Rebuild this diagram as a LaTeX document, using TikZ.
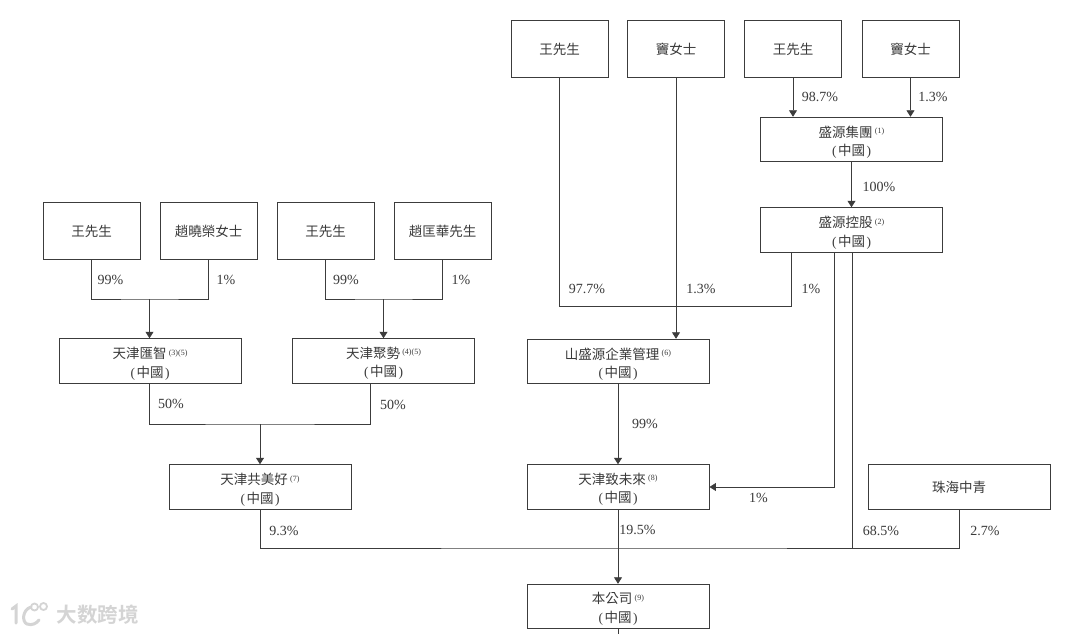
\documentclass[tikz,border=0pt]{standalone}
\usepackage{fontspec}
\setmainfont{Liberation Serif}
\newfontfamily\cjk{Noto Sans CJK TC}
\newfontfamily\cjksc{Noto Sans CJK SC}[BoldFont={Noto Sans CJK SC Bold}]
\usetikzlibrary{arrows.meta,calc}
\definecolor{ink}{HTML}{3C3C3C}
\definecolor{txt}{HTML}{3A3A3A}
\definecolor{wm}{HTML}{D4D4D4}
\newcommand{\zh}[1]{{\cjk #1}}
\newcommand{\note}[1]{\,\raisebox{3.5pt}{\fontsize{8}{8}\selectfont #1}}
\newcommand{\cn}{(\hspace{1.5pt}\zh{中國}\hspace{1.5pt})}
\newcommand{\dn}[1]{\raisebox{-2.5pt}[\height][\depth]{#1}}
\newcommand{\twolines}[2]{\dn{\zh{#1}\note{#2}}\\\dn{\cn}}
\tikzset{
  ownerbox/.style={draw=ink,line width=0.95pt,minimum width=97pt,minimum height=56.5pt,inner sep=0pt,text=txt,font=\fontsize{13.5}{18.5}\selectfont},
  entitybox/.style={draw=ink,line width=0.95pt,minimum width=182pt,minimum height=44.5pt,inner sep=0pt,align=center,text=txt,font=\fontsize{13.5}{18.5}\selectfont},
  pct/.style={inner sep=0pt,text=txt,font=\fontsize{14}{14}\selectfont},
  link/.style={draw=ink,line width=0.9pt},
  arrowlink/.style={link,-{Triangle[length=6.5pt,width=8pt]}},
  wmtext/.style={inner sep=0pt,text=wm,font=\fontsize{20.5}{21}\cjksc\bfseries},
  wmstroke/.style={draw=wm,line width=3pt,line cap=round}
}
\begin{document}
\begin{tikzpicture}[x=1pt,y=-1pt]
\path[use as bounding box,fill=white] (0,0) rectangle (1080,634);
% top owners
\node[ownerbox] (a1) at (559.5,49) {\zh{王先生}};
\node[ownerbox] (a2) at (676,49) {\zh{竇女士}};
\node[ownerbox] (a3) at (793,49) {\zh{王先生}};
\node[ownerbox] (a4) at (910.5,49) {\zh{竇女士}};
\node[entitybox] (group) at (851.5,139.5) {\twolines{盛源集團}{(1)}};
\node[entitybox] (hold) at (851.5,230) {\twolines{盛源控股}{(2)}};
% left owners
\node[ownerbox] (b1) at (91.5,231) {\zh{王先生}};
\node[ownerbox] (b2) at (208.5,231) {\zh{趙曉榮女士}};
\node[ownerbox] (b3) at (325.5,231) {\zh{王先生}};
\node[ownerbox] (b4) at (442.5,231) {\zh{趙匡華先生}};
\node[entitybox] (hz) at (150,361) {\twolines{天津匯智}{(3)(5)}};
\node[entitybox] (js) at (383.5,361) {\twolines{天津聚勢}{(4)(5)}};
\node[entitybox] (gm) at (260,487) {\twolines{天津共美好}{(7)}};
\node[entitybox] (ss) at (618,361.5) {\twolines{山盛源企業管理}{(6)}};
\node[entitybox] (zw) at (618,487) {\twolines{天津致未來}{(8)}};
\node[entitybox] (co) at (618,606.5) {\twolines{本公司}{(9)}};
\node[entitybox] (zh) at (959,487) {\zh{珠海中青}};
% junctions
\coordinate (j1) at (149.5,299);
\coordinate (j2) at (383.5,299);
\coordinate (j3) at (260,424);
\coordinate (hzout) at (149.5,383.5);
\coordinate (jsout) at (370,383.5);
\coordinate (holdL) at (791.5,252.5);
\coordinate (holdM) at (834.5,252.5);
\coordinate (holdR) at (852,252.5);
\coordinate (bus) at (618,548);
\coordinate (coOut) at (618,634);
% top connectors
\draw[arrowlink] (a3.south) -- (a3.south |- group.north);
\draw[arrowlink] (a4.south) -- (a4.south |- group.north);
\draw[arrowlink] (group.south -| hold.north) -- (hold.north);
\draw[link] (a1.south) |- (holdL |- 0,306) -- (holdL);
\draw[arrowlink] (a2.south) -- (a2.south |- ss.north);
\draw[arrowlink] (holdM) |- (zw.east);
\draw[link] (holdR) -- (holdR |- bus);
% left connectors
\draw[link] (b1.south) |- (j1) -| (b2.south);
\draw[arrowlink] (j1) -- (j1 |- hz.north);
\draw[link] (b3.south) |- (j2) -| (b4.south);
\draw[arrowlink] (j2) -- (j2 |- js.north);
\draw[link] (hzout) |- (j3) -| (jsout);
\draw[arrowlink] (j3) -- (gm.north);
% lower connectors
\draw[arrowlink] (ss.south) -- (zw.north);
\draw[link] (gm.south) |- (bus) -| (zh.south);
\draw[arrowlink] (zw.south) -- (co.north);
\draw[link] (co.south) -- (coOut);
% percentages
\node[pct] (p1) at (820,97) {98.7\%};
\node[pct] (p2) at (933,97) {1.3\%};
\node[pct] (p3) at (879,187) {100\%};
\node[pct] (p4) at (587,289) {97.7\%};
\node[pct] (p5) at (701,289) {1.3\%};
\node[pct] (p6) at (811,289) {1\%};
\node[pct] (p7) at (110.5,279.5) {99\%};
\node[pct] (p8) at (226,279.5) {1\%};
\node[pct] (p9) at (346,279.5) {99\%};
\node[pct] (p10) at (461,279.5) {1\%};
\node[pct] (p11) at (171,403.5) {50\%};
\node[pct] (p12) at (393,405) {50\%};
\node[pct] (p13) at (645,423.5) {99\%};
\node[pct] (p14) at (758.5,498) {1\%};
\node[pct] (p15) at (637.5,530) {19.5\%};
\node[pct] (p16) at (284,531) {9.3\%};
\node[pct] (p17) at (881,531) {68.5\%};
\node[pct] (p18) at (985,531) {2.7\%};
% watermark
\node[wmtext] (wmark) at (97.5,615) {大数跨境};
\draw[wmstroke] (12,609) -- (16,606) -- (16,623);
\draw[wmstroke] (31,607) .. controls (22,610) and (22,622) .. (27,624) .. controls (32,626) and (37,623) .. (39,620);
\draw[draw=wm,line width=1.8pt] (34.5,607) circle (3.5);
\draw[draw=wm,line width=1.8pt] (43.5,606.5) circle (3.5);
\end{tikzpicture}
\end{document}
